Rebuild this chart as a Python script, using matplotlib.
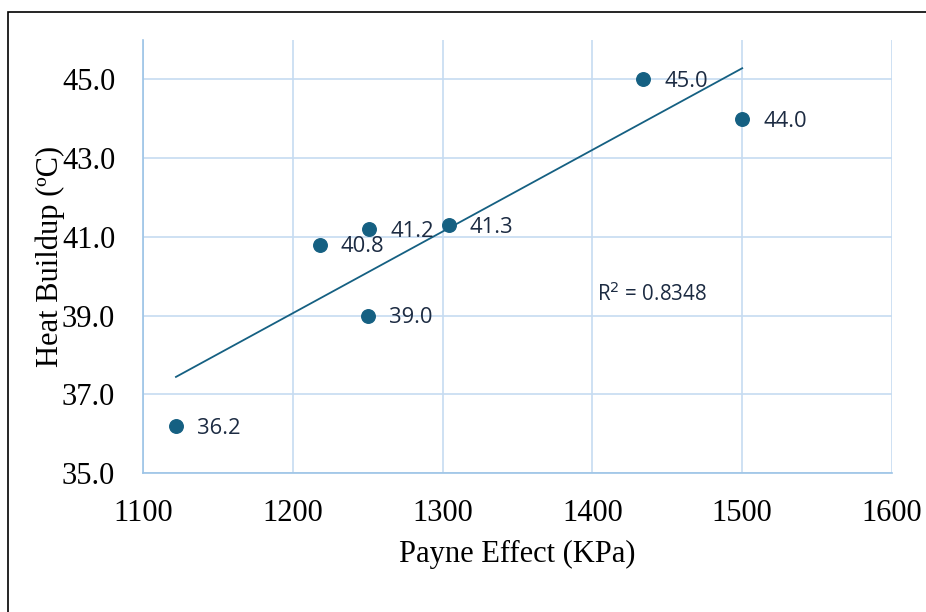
import numpy as np
import matplotlib
matplotlib.use("Agg")
import matplotlib.pyplot as plt
from matplotlib.patches import Rectangle

payne = [1122, 1218, 1251, 1250, 1304, 1434, 1500]
heat = [36.2, 40.8, 41.2, 39.0, 41.3, 45.0, 44.0]
x_ticks = [1100, 1200, 1300, 1400, 1500, 1600]
y_ticks = [35.0, 37.0, 39.0, 41.0, 43.0, 45.0]
r2_label = "R$^{2}$ = 0.8348"

point_color = "#156082"
grid_color = "#c6dcf1"
label_color = "#1c2b42"

fig = plt.figure(figsize=(9.26, 6.12), dpi=100)
ax = fig.add_axes([143/926, 1-473/612, (892-143)/926, (473-40)/612])

ax.scatter(payne, heat, s=95, color=point_color, zorder=3)
for x, y in zip(payne, heat):
    ax.annotate(f"{y:.1f}", (x, y), xytext=(15, -5.6), textcoords="offset points",
                va="baseline", ha="left", fontsize=15.8, family="Open Sans",
                color=label_color, zorder=4)

coef = np.polyfit(payne, heat, 1)
xs = np.array([min(payne), max(payne)])
ax.plot(xs, np.polyval(coef, xs), color=point_color, lw=1.3, zorder=2)

ax.annotate(r2_label, (1403, 39.55), xytext=(0, -5.4), textcoords="offset points",
            fontsize=14.8, family="Open Sans", color=label_color,
            va="baseline", ha="left")

ax.set_xlim(1100, 1600)
ax.set_ylim(35, 46)
ax.set_xticks(x_ticks)
ax.set_yticks(y_ticks)
ax.set_yticklabels([f"{v:.1f}" for v in y_ticks])
ax.grid(True, color=grid_color, lw=1.2)
ax.set_axisbelow(True)
for s in ["top", "right"]:
    ax.spines[s].set_visible(False)
for s in ["left", "bottom"]:
    ax.spines[s].set_color("#9cc3e6")
    ax.spines[s].set_linewidth(1.2)
ax.tick_params(length=0, labelsize=22)
ax.tick_params(axis="y", pad=20)
ax.tick_params(axis="x", pad=19)
for lab in ax.get_xticklabels() + ax.get_yticklabels():
    lab.set_family("Liberation Serif")
ax.set_xlabel("Payne Effect (KPa)", family="Liberation Serif", fontsize=22, labelpad=8)
ax.set_ylabel("Heat Buildup (ºC)", family="Liberation Serif", fontsize=22, labelpad=-2)

fig.patches.append(Rectangle((8/926, -0.05), 1.2, 1-12/612+0.05, transform=fig.transFigure,
                             fill=False, edgecolor="black", lw=1.2))

fig.savefig("out.png", dpi=100)
